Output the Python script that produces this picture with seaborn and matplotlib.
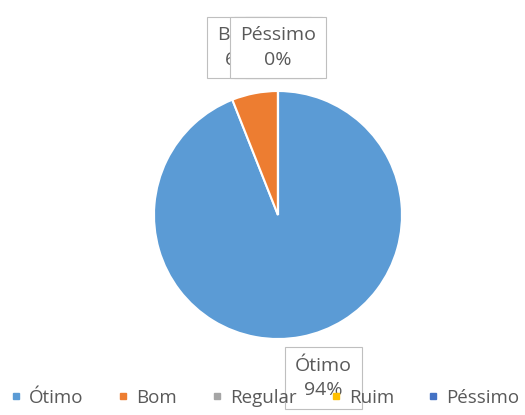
import numpy as np
import matplotlib.pyplot as plt
import seaborn as sns
from matplotlib.lines import Line2D

# --- data ---
categories = ['Ótimo', 'Bom', 'Regular', 'Ruim', 'Péssimo']
percentages = [94, 6, 0, 0, 0]
colors = ['#5B9BD5', '#ED7D31', '#A5A5A5', '#FFC000', '#4472C4']

sns.set_theme(style='white')
plt.rcParams['font.family'] = ['Open Sans', 'DejaVu Sans']
text_color = '#595959'

fig = plt.figure(figsize=(5.25, 4.15), dpi=100)
ax = fig.add_axes([0.2933, 0.1831, 0.4724, 0.5976])

wedges, _ = ax.pie(percentages, colors=colors, startangle=90, counterclock=False,
                   wedgeprops=dict(edgecolor='white', linewidth=1.5))
ax.set_xlim(-1, 1)
ax.set_ylim(-1, 1)
ax.set_aspect('equal')
ax.axis('off')

# data labels (Excel style, boxed), placed out from each slice's mid angle
total = sum(percentages)
for i, (cat, pct, w) in enumerate(zip(categories, percentages, wedges)):
    mid = np.deg2rad((w.theta1 + w.theta2) / 2)
    if pct == 0:
        x, y = 0.0, 1.35
    elif i == 0:
        x, y = 1.32 * np.cos(mid) + 0.12, 1.32 * np.sin(mid) - 0.02
    else:
        x, y = -0.32, 1.35
    ax.text(x, y, f'{cat}\n{round(pct / total * 100)}%', ha='center', va='center',
            fontsize=14, color=text_color, linespacing=1.45,
            bbox=dict(boxstyle='square,pad=0.5', facecolor='white', edgecolor='#BFBFBF', linewidth=0.8))

handles = [Line2D([0], [0], marker='s', linestyle='', markersize=5, color=c) for c in colors]
leg = fig.legend(handles, categories, loc='center', bbox_to_anchor=(0.505, 0.042), ncol=5,
                 frameon=False, fontsize=13.5, handlelength=0.6, handletextpad=0.4,
                 columnspacing=1.8, labelcolor=text_color)

fig.savefig('out.png', dpi=100)
